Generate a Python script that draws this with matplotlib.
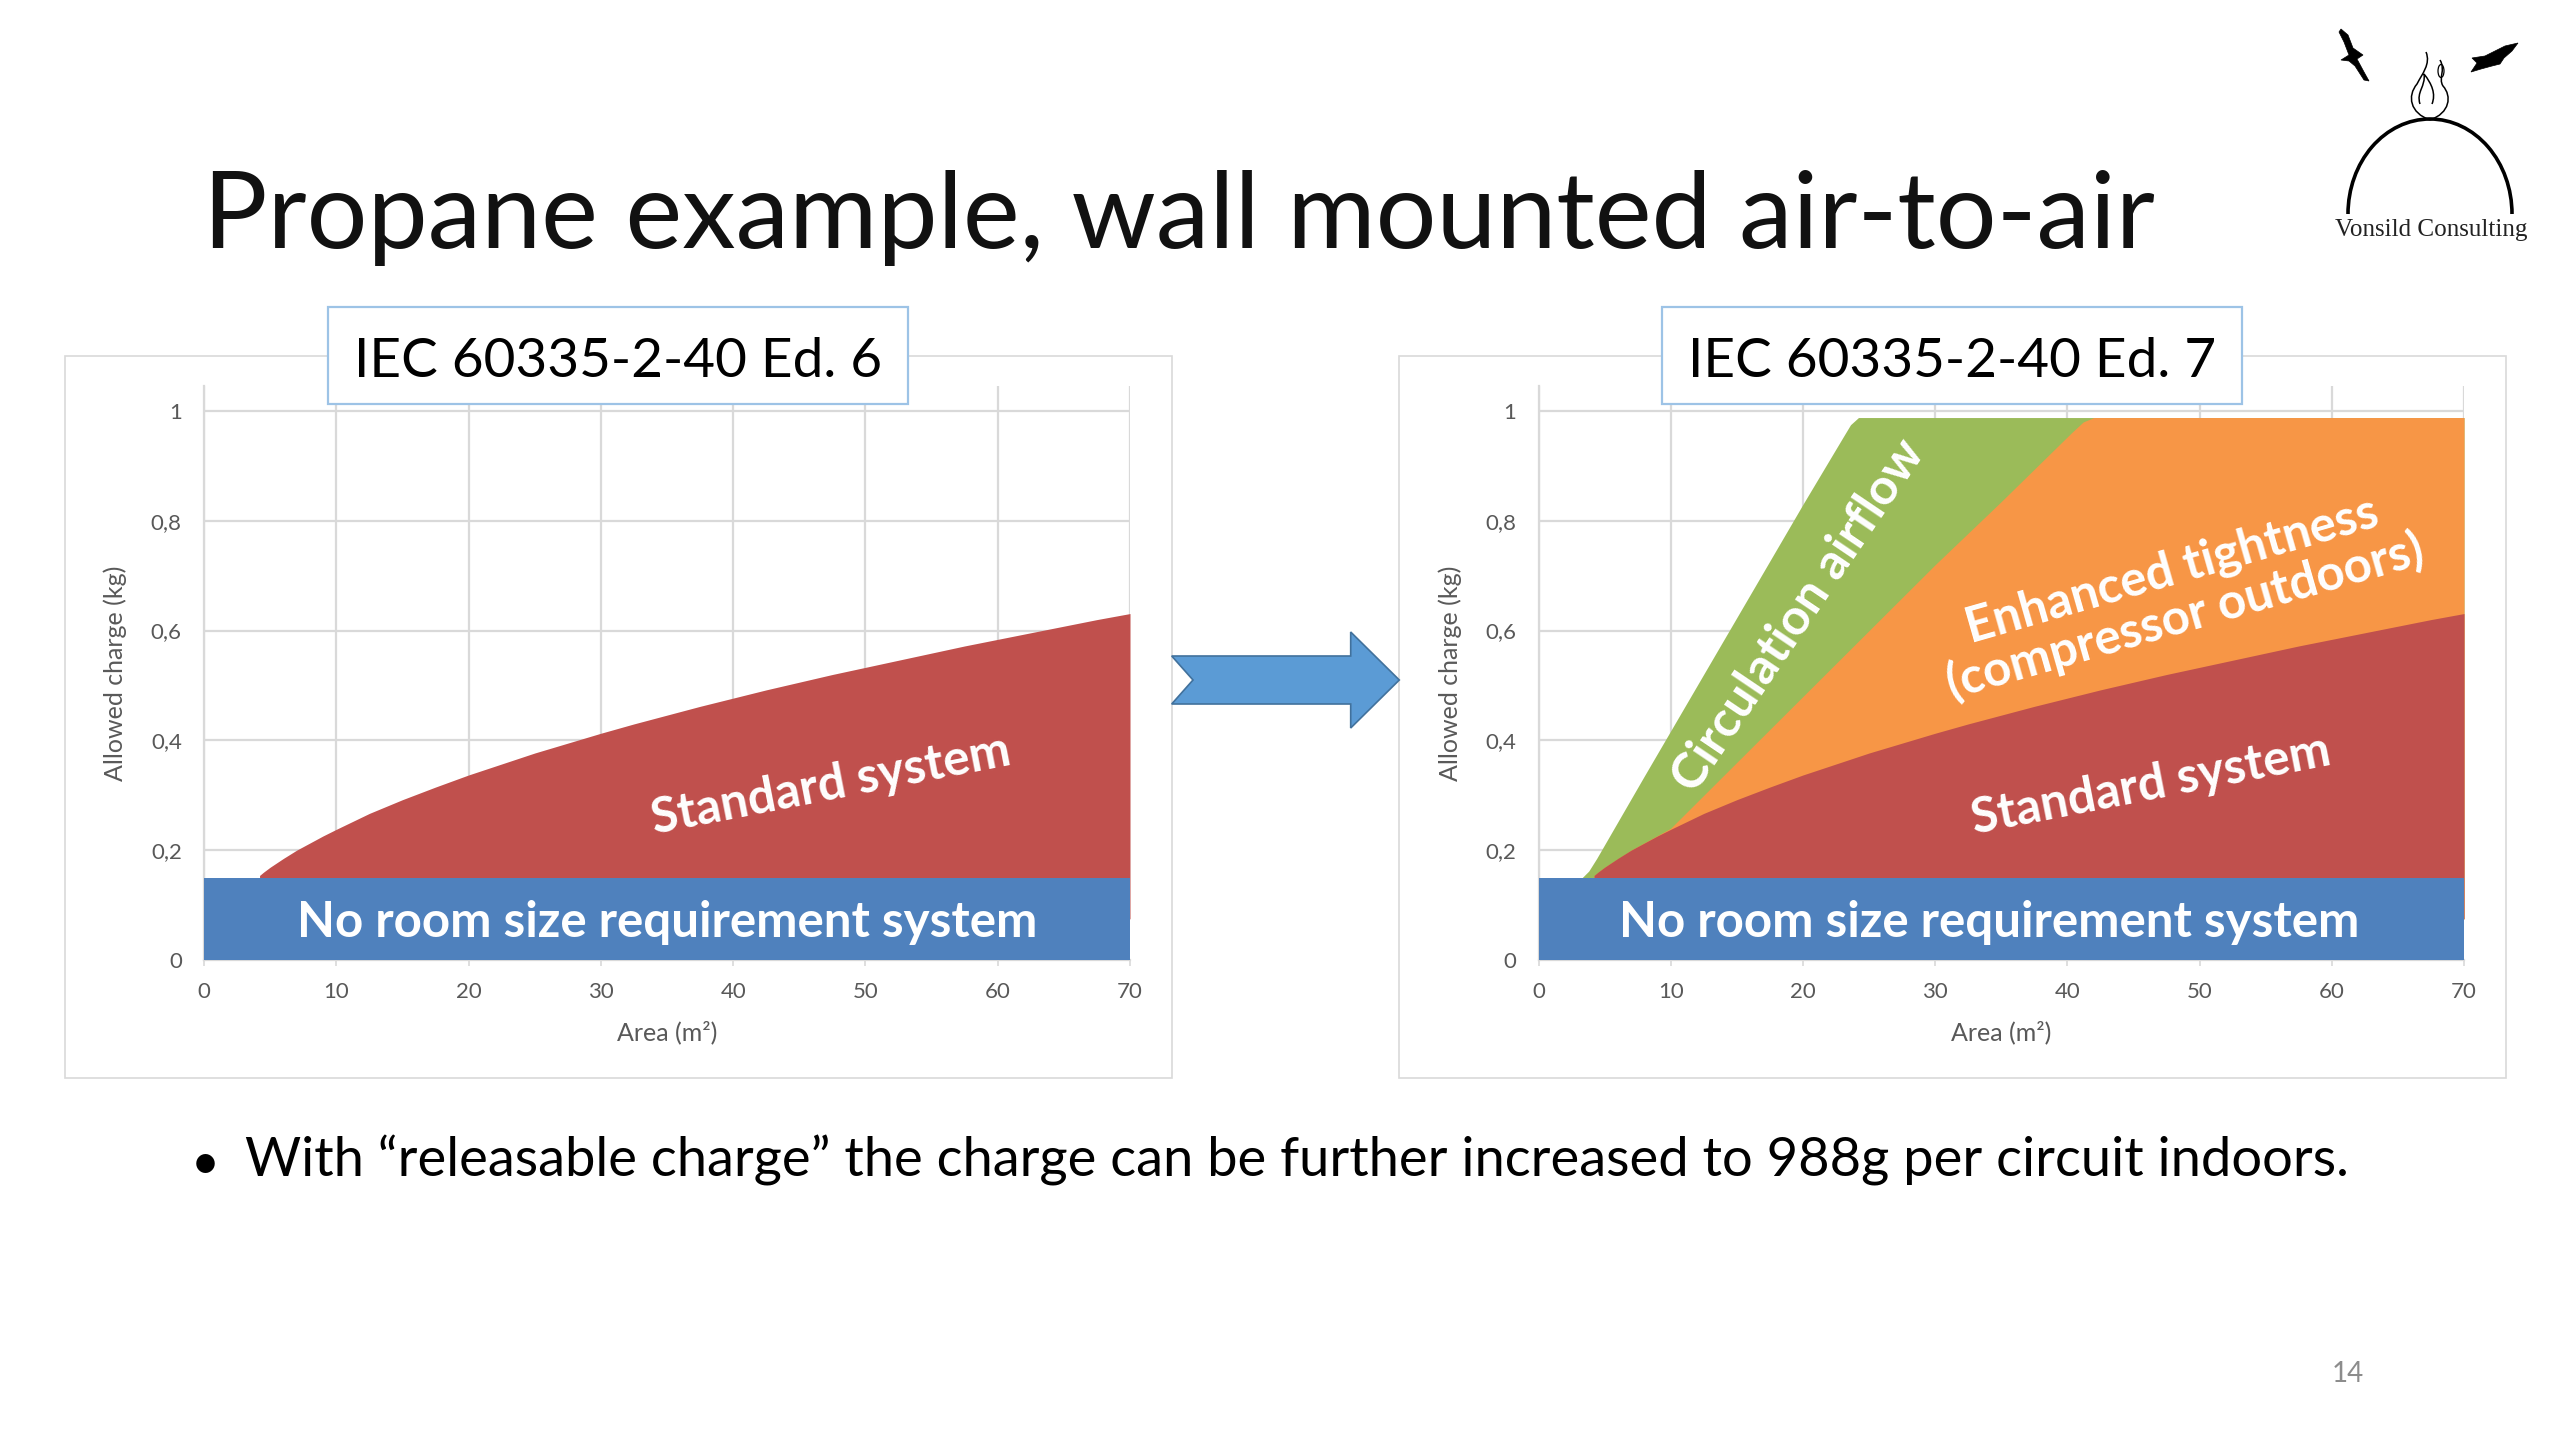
import matplotlib
matplotlib.use("Agg")
import matplotlib.pyplot as plt
from matplotlib.patches import Rectangle, Polygon, Arc, Ellipse, PathPatch
from matplotlib.path import Path

plt.rcParams['font.family'] = ['Lato', 'DejaVu Sans']

# values (area in m2, charge in kg)
area_band = [0, 70]
charge_band = [0.15, 0.15]

area_std = [4.2, 4.5, 5, 6, 7, 8, 9, 10, 12.5, 15, 17.5, 20, 22.5, 25, 27.5, 30, 32.5,
            35, 37.5, 40, 42.5, 45, 47.5, 50, 52.5, 55, 57.5, 60, 62.5, 65, 67.5, 70]
charge_std = [0.154, 0.16, 0.169, 0.185, 0.2, 0.213, 0.226, 0.238, 0.267, 0.292, 0.315,
              0.337, 0.357, 0.377, 0.395, 0.413, 0.43, 0.446, 0.462, 0.477, 0.492, 0.506,
              0.52, 0.533, 0.546, 0.559, 0.572, 0.584, 0.596, 0.608, 0.62, 0.631]

area_tight = [4.2, 5, 7, 10, 15, 20, 25, 30, 35, 40.3, 41.2, 42, 70]
charge_tight = [0.154, 0.169, 0.2, 0.24, 0.36, 0.48, 0.6, 0.72, 0.835, 0.96, 0.98, 0.988, 0.988]

area_circ = [3.3, 3.8, 4.4, 8, 12, 16, 20, 23.1, 23.6, 24.2, 70]
charge_circ = [0.15, 0.162, 0.185, 0.335, 0.5, 0.665, 0.83, 0.955, 0.975, 0.988, 0.988]

x_ticks = [0, 10, 20, 30, 40, 50, 60, 70]
y_ticks = [0, 0.2, 0.4, 0.6, 0.8, 1]
y_ticklabels = ['0', '0,2', '0,4', '0,6', '0,8', '1']

c_blue = '#4F81BD'
c_red = '#C0504D'
c_orange = '#F79646'
c_green = '#9BBB59'
grey_line = '#D9D9D9'
grey_text = '#595959'

W, H = 2560, 1440
fig = plt.figure(figsize=(25.6, 14.4), dpi=100, facecolor='white')


def setup(ax):
    ax.set_xlim(0, 70)
    ax.set_ylim(0, 1.046)
    ax.set_xticks(x_ticks)
    ax.set_yticks(y_ticks)
    ax.set_yticklabels(y_ticklabels)
    ax.grid(True, color=grey_line, lw=1.6)
    ax.set_axisbelow(True)
    ax.spines['top'].set_visible(False)
    ax.spines['right'].set_visible(False)
    for s in ['left', 'bottom']:
        ax.spines[s].set_color(grey_line)
        ax.spines[s].set_linewidth(1.6)
    ax.tick_params(axis='y', length=0, pad=16, labelsize=16, labelcolor=grey_text)
    ax.tick_params(axis='x', length=4, width=1.2, color=grey_line, pad=12,
                   labelsize=16, labelcolor=grey_text)
    ax.set_xlabel('Area (m²)', fontsize=18, color=grey_text, va='center')
    ax.xaxis.set_label_coords(0.5, -0.1254)
    ax.set_ylabel('Allowed charge (kg)', fontsize=18, color=grey_text, va='center')
    ax.yaxis.set_label_coords(-0.0956, 0.5)


ax1 = fig.add_axes([204 / W, 480 / H, 926 / W, 574.3 / H])
ax2 = fig.add_axes([1538.5 / W, 480 / H, 925.5 / W, 574.3 / H])
setup(ax1)
setup(ax2)

# areas start inside the blue band so its lower edge stays clean
base = charge_band[0] / 2

# Ed. 6
ax1.fill_between(area_std, base, charge_std, color=c_red, lw=0, zorder=3)
ax1.fill_between(area_band, 0, charge_band, color=c_blue, lw=0, zorder=4)

# Ed. 7
ax2.fill_between(area_circ, base, charge_circ, color=c_green, lw=0, zorder=2)
ax2.fill_between(area_tight, base, charge_tight, color=c_orange, lw=0, zorder=3)
ax2.fill_between(area_std, base, charge_std, color=c_red, lw=0, zorder=3.5)
ax2.fill_between(area_band, 0, charge_band, color=c_blue, lw=0, zorder=4)

r = fig.canvas.get_renderer()


def fit_width(t, width):
    w = t.get_window_extent(r).width
    t.set_fontsize(t.get_fontsize() * width / w)


lab = dict(color='white', fontweight='bold', zorder=6)
b1 = ax1.text(35.0, 0.041, 'No room size requirement system', ha='center', va='baseline',
              fontsize=33, **lab)
fit_width(b1, 740)
fs_in = b1.get_fontsize()
ax2.text(34.1, 0.041, 'No room size requirement system', ha='center', va='baseline',
         fontsize=fs_in, **lab)

ax1.text(47.4, 0.319, 'Standard system', ha='center', va='center', rotation=11,
         rotation_mode='anchor', fontsize=fs_in, **lab)
ax2.text(46.3, 0.319, 'Standard system', ha='center', va='center', rotation=11,
         rotation_mode='anchor', fontsize=fs_in, **lab)
ax2.text(48.4, 0.667, 'Enhanced tightness\n(compressor outdoors)', ha='center', va='center',
         rotation=16, rotation_mode='anchor', fontsize=fs_in, linespacing=1.05, **lab)
ax2.text(19.7, 0.628, 'Circulation airflow', ha='center', va='center', rotation=56,
         rotation_mode='anchor', fontsize=fs_in * 1.02, **lab)

# overlay in pixel units for the slide decorations
ov = fig.add_axes([0, 0, 1, 1], zorder=5)
ov.set_xlim(0, W)
ov.set_ylim(H, 0)
ov.axis('off')

# chart frames
for x0 in [65, 1399]:
    ov.add_patch(Rectangle((x0, 356), 1107, 722, fill=False, edgecolor=grey_line, lw=1.2))

# edition boxes
for x0, label in [(328, 'IEC 60335-2-40 Ed. 6'), (1662, 'IEC 60335-2-40 Ed. 7')]:
    ov.add_patch(Rectangle((x0, 307), 580, 97, facecolor='white', edgecolor='#9DC3E6', lw=1.6))
    t = ov.text(x0 + 290, 377, label, ha='center', va='baseline', fontsize=40, color='black')
    fit_width(t, 529)

# arrow
arrow = [(1171.7, 656), (1350.7, 656), (1350.7, 632), (1399.3, 680), (1350.7, 728),
         (1350.7, 704), (1171.7, 704), (1193, 680)]
ov.add_patch(Polygon(arrow, closed=True, facecolor='#5B9BD5', edgecolor='#41719C', lw=1.2))

# title and bullet
t = ov.text(203, 248, 'Propane example, wall mounted air-to-air', ha='left', va='baseline',
            fontsize=75, color='#111111')
fit_width(t, 1950)
t = ov.text(245, 1177, 'With “releasable charge” the charge can be further increased to 988g per circuit indoors.',
            ha='left', va='baseline', fontsize=37, color='black')
fit_width(t, 2103)
ov.text(205, 1179, '•', ha='center', va='baseline', fontsize=36, color='black')

ov.text(2348, 1374, '14', ha='center', va='center', fontsize=20, color='#8C8C8C')

# logo
ov.add_patch(Arc((2430, 214), 164, 190, theta1=180, theta2=360, color='black', lw=2.6))
M, C = Path.MOVETO, Path.CURVE4
flame_left = Path([(2430, 120), (2410, 113), (2407, 96), (2417, 84),
                   (2422, 74), (2431, 64), (2426, 52)], [M, C, C, C, C, C, C])
flame_right = Path([(2430, 120), (2450, 113), (2452, 96), (2443, 86),
                    (2438, 78), (2446, 70), (2440, 60)], [M, C, C, C, C, C, C])
flame_in = Path([(2420, 104), (2416, 92), (2426, 86), (2424, 74),
                 (2432, 84), (2436, 94), (2432, 104)], [M, C, C, C, C, C, C])
for p in [flame_left, flame_right, flame_in]:
    ov.add_patch(PathPatch(p, fill=False, edgecolor='black', lw=1.1))
ov.add_patch(Ellipse((2441, 71), 6, 13, fill=False, edgecolor='black', lw=0.9))
bird_left = [(2341, 29), (2348, 35), (2353, 48), (2363, 55), (2357, 59), (2364, 72),
             (2369, 81), (2364, 80), (2355, 66), (2349, 61), (2341, 60), (2349, 55),
             (2344, 42), (2339, 32)]
bird_right = [(2518, 43), (2505, 46), (2495, 51), (2485, 56), (2472, 58), (2477, 63),
              (2471, 72), (2481, 69), (2492, 66), (2500, 64), (2504, 58), (2512, 51)]
ov.add_patch(Polygon(bird_left, closed=True, facecolor='black', edgecolor='black', lw=0.5))
ov.add_patch(Polygon(bird_right, closed=True, facecolor='black', edgecolor='black', lw=0.5))
t = ov.text(2431, 230, 'Vonsild Consulting', ha='center', va='center', fontsize=18,
            family='Liberation Serif', color='#222222')
fit_width(t, 193)

fig.savefig('out.png', dpi=100, facecolor='white')
